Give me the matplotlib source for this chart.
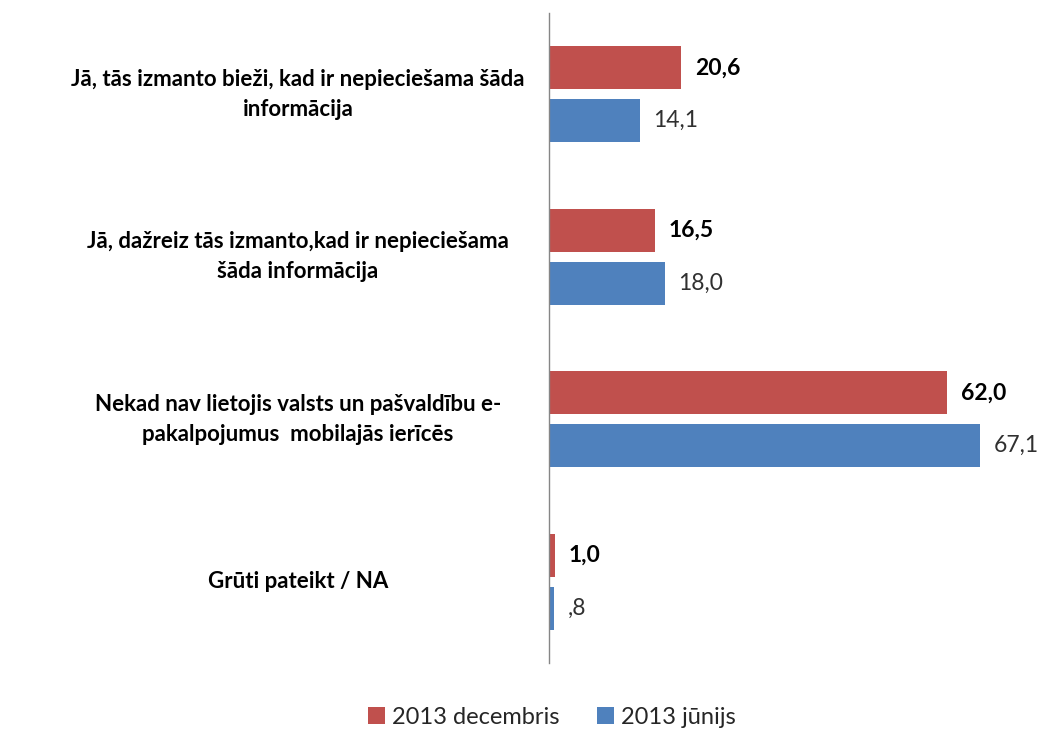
import matplotlib
matplotlib.use("Agg")
import matplotlib.pyplot as plt
from matplotlib.patches import Patch

categories = [
    "Jā, tās izmanto bieži, kad ir nepieciešama šāda\ninformācija",
    "Jā, dažreiz tās izmanto,kad ir nepieciešama\nšāda informācija",
    "Nekad nav lietojis valsts un pašvaldību e-\npakalpojumus  mobilajās ierīcēs",
    "Grūti pateikt / NA",
]
series_names = ["2013 decembris", "2013 jūnijs"]
dec_values = [20.6, 16.5, 62.0, 1.0]
jun_values = [14.1, 18.0, 67.1, 0.8]
dec_labels = ["20,6", "16,5", "62,0", "1,0"]
jun_labels = ["14,1", "18,0", "67,1", ",8"]

RED = "#C0504D"
BLUE = "#4F81BD"

plt.rcParams["font.family"] = ["Lato", "DejaVu Sans"]

W, H = 1046, 731
fig = plt.figure(figsize=(W / 100, H / 100), dpi=100)
ax_left, ax_right = 549, 1020
ax_top, ax_bottom = 13, 663
ax = fig.add_axes([ax_left / W, 1 - ax_bottom / H, (ax_right - ax_left) / W, (ax_bottom - ax_top) / H])

px_per_unit = 6.42
ax.set_xlim(0, (ax_right - ax_left) / px_per_unit)
ax.set_ylim(len(categories) - 0.5, -0.5)

off = 0.163
h = 0.265
ys = list(range(len(categories)))
ax.barh([y - off for y in ys], dec_values, height=h, color=RED, label=series_names[0])
ax.barh([y + off for y in ys], jun_values, height=h, color=BLUE, label=series_names[1])

pad = 2.1
for y, v, t in zip(ys, dec_values, dec_labels):
    ax.text(v + pad, y - off, t, va="center", ha="left", fontsize=16.5, fontweight="bold", color="#000000")
for y, v, t in zip(ys, jun_values, jun_labels):
    ax.text(v + pad, y + off, t, va="center", ha="left", fontsize=16.5, color="#303030")

for y, c in zip(ys, categories):
    fig.text(298 / W, 1 - (ax_top + (y + 0.5) * (ax_bottom - ax_top) / len(categories)) / H, c,
             ha="center", va="center", fontsize=16, fontweight="bold", color="#000000",
             linespacing=1.55)

for s in ["top", "right", "bottom"]:
    ax.spines[s].set_visible(False)
ax.spines["left"].set_color("#868686")
ax.spines["left"].set_linewidth(1.0)
ax.set_xticks([])
ax.set_yticks([])

handles = [Patch(facecolor=RED, label=series_names[0]), Patch(facecolor=BLUE, label=series_names[1])]
fig.legend(handles=handles, loc="center", bbox_to_anchor=(552 / W, 1 - 717 / H), ncol=2,
           frameon=False, fontsize=17, handlelength=0.7, handleheight=0.7, handletextpad=0.3,
           columnspacing=1.6, labelcolor="#262626")

fig.savefig("out.png", dpi=100, facecolor="white")
